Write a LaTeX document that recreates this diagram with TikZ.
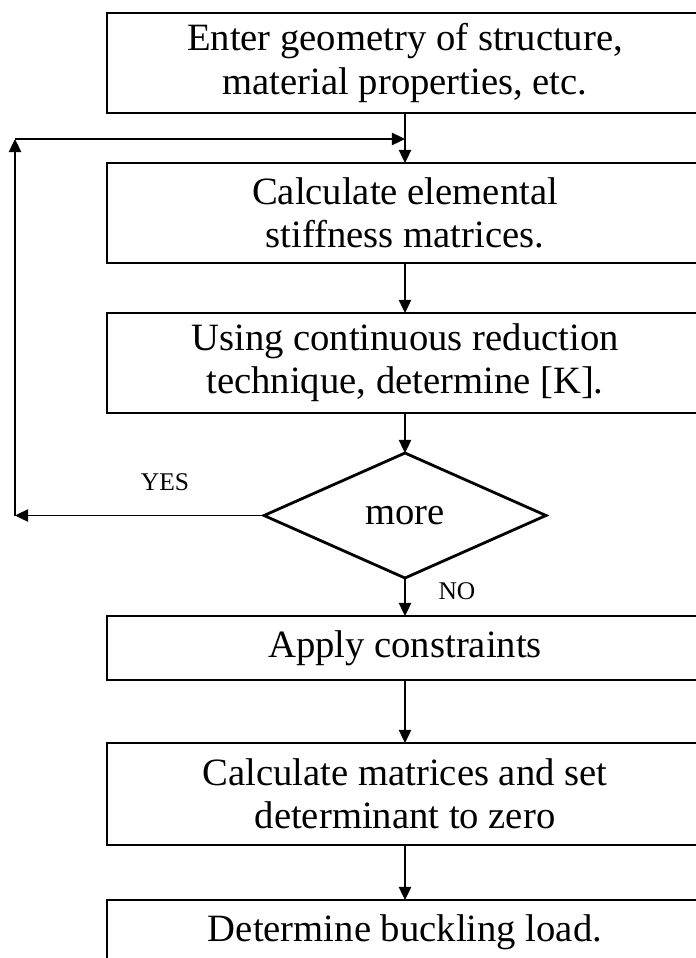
\documentclass[tikz,border=0pt]{standalone}
\usepackage{fontspec}
\setmainfont{Liberation Serif}
\usetikzlibrary{positioning, shapes.geometric, arrows.meta}

\begin{document}
\begin{tikzpicture}[
  stepbox/.style={rectangle, draw, line width=1.6pt, minimum width=11.92cm, inner sep=0pt,
    outer sep=0pt, align=center, font=\fontsize{22}{24.5}\selectfont},
  tall/.style={minimum height=2cm},
  short/.style={minimum height=1.28cm},
  decision/.style={diamond, draw, line width=1.6pt, minimum width=5.64cm, minimum height=2.5cm,
    inner sep=0pt, outer sep=0pt, font=\fontsize{22}{24.5}\selectfont},
  answer/.style={font=\fontsize{14.5}{16}\selectfont},
  flow/.style={-{Triangle[length=7.5pt,width=7pt]}, line width=1.1pt},
  node distance=1cm
]
\useasboundingbox (0,0) rectangle (13.9,-19.16);

% Nodes
\node[stepbox, tall] (input) at (8.1,-1.26) {Enter geometry of structure,\\material properties, etc.};
\node[stepbox, tall, below=1cm of input] (elemental) {Calculate elemental\\stiffness matrices.};
\node[stepbox, tall, below=1cm of elemental] (reduction) {Using continuous reduction\\technique, determine [K].};
\node[decision, below=0.8cm of reduction] (more) {more};
\node[stepbox, short, below=0.76cm of more] (constraints) {Apply constraints};
\node[stepbox, minimum height=2.04cm, below=1.26cm of constraints] (determinant) {Calculate matrices and set\\determinant to zero};
\node[stepbox, short, below=1.1cm of determinant] (buckling) {Determine buckling load.};

\node[answer] (yes) at (3.3,-9.64) {YES};
\node[answer] (no) at (9.14,-11.82) {NO};

% Loop corners
\coordinate (loopend) at (0.3,-2.78);
\coordinate (yesend) at (0.3,0 |- more.west);
\coordinate (join) at (input |- loopend);

% Edges
\draw[flow] (input) -- (elemental);
\draw[flow] (elemental) -- (reduction);
\draw[flow] (reduction) -- (more);
\draw[flow] (more) -- (constraints);
\draw[flow] (constraints) -- (determinant);
\draw[flow] (determinant) -- (buckling);

\draw[flow] (more.west) -- (yesend);
\draw[flow] (yesend) -- (loopend);
\draw[flow] (loopend) -- (join);
\end{tikzpicture}
\end{document}
